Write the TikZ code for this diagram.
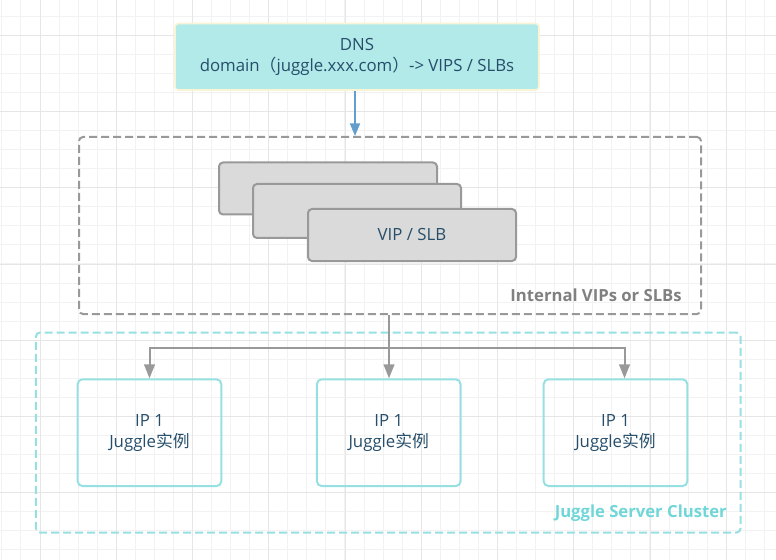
\documentclass[tikz,border=0pt]{standalone}
\usepackage{fontspec}
\setmainfont{Open Sans}
\newfontfamily\cjk{Noto Sans CJK SC}
\usetikzlibrary{arrows.meta,calc}
\definecolor{gridminor}{RGB}{242,242,242}
\definecolor{gridmajor}{RGB}{230,230,230}
\definecolor{dnsfill}{RGB}{178,234,234}
\definecolor{dnsline}{RGB}{250,244,215}
\definecolor{txtblue}{RGB}{38,78,106}
\definecolor{vipfill}{RGB}{218,218,218}
\definecolor{grayline}{RGB}{153,153,153}
\definecolor{graytext}{RGB}{128,128,128}
\definecolor{cyanline}{RGB}{150,224,226}
\definecolor{cyantext}{RGB}{112,214,216}
\definecolor{bluearrow}{RGB}{100,158,204}
\begin{document}
\begin{tikzpicture}[x=0.75pt,y=-0.75pt,
  every node/.style={font=\fontsize{12.6pt}{15.75pt}\selectfont, text=txtblue},
  dnsbox/.style={draw=dnsline, fill=dnsfill, line width=1.2pt, rounded corners=2.5pt, align=center, inner sep=0pt},
  vipbox/.style={draw=grayline, fill=vipfill, line width=1.5pt, rounded corners=3pt, inner sep=0pt, minimum width=156pt},
  grpbox/.style={draw=grayline, line width=1.5pt, dash pattern=on 6pt off 3pt, rounded corners=3pt, inner sep=0pt},
  clbox/.style={draw=cyanline, line width=1.5pt, dash pattern=on 6pt off 3pt, rounded corners=3pt, inner sep=0pt},
  ipbox/.style={draw=cyanline, line width=1.5pt, rounded corners=3.5pt, align=center, inner sep=0pt, minimum width=107.7pt, minimum height=80pt},
  grplabel/.style={font=\bfseries\fontsize{12.5pt}{14pt}\selectfont, inner sep=0pt, anchor=east},
  conn/.style={draw=grayline, line width=1.5pt},
  connarrow/.style={conn, -{Triangle[length=10.5pt,width=8pt]}},
  dnsarrow/.style={draw=bluearrow, line width=1.5pt, -{Triangle[length=9.5pt,width=7.5pt]}}
]
\useasboundingbox (0,0) rectangle (776,560);
% grid
\foreach \i in {0,...,40} {
  \draw[gridminor, line width=0.75pt] (1.9+19.06*\i,0) -- (1.9+19.06*\i,560);
}
\foreach \i in {0,...,29} {
  \draw[gridminor, line width=0.75pt] (0,16.2+19.06*\i) -- (776,16.2+19.06*\i);
}
\foreach \i in {0,...,9} {
  \draw[gridmajor, line width=0.75pt] (40+76.25*\i,0) -- (40+76.25*\i,560);
}
\foreach \i in {0,...,7} {
  \draw[gridmajor, line width=0.75pt] (0,35.3+76.25*\i) -- (776,35.3+76.25*\i);
}

% DNS
\node[dnsbox, minimum width=273pt, minimum height=49.9pt] (dns) at (357,56.75)
  {DNS\\domain{\cjk （}juggle.xxx.com{\cjk ）}-> VIPS / SLBs};

% internal group
\node[grpbox, minimum width=466.5pt, minimum height=132.75pt] (grp) at (390,225.5) {};
\node[vipbox, minimum width=163.5pt, minimum height=39pt] (vipa) at (328,188.5) {};
\node[vipbox, minimum height=40.5pt] (vipb) at (357,211) {};
\node[vipbox, minimum height=39pt] (vipc) at (412,235) {VIP / SLB};
\node[grplabel, text=graytext] (grplab) at (682,295.5) {Internal VIPs or SLBs};

% cluster
\node[clbox, minimum width=528.4pt, minimum height=150pt] (cl) at (388.25,432.5) {};
\node[ipbox] (ipa) at (149.5,432.7) {IP 1\\Juggle{\cjk 实例}};
\node[ipbox] (ipb) at (388.75,432.7) {IP 1\\Juggle{\cjk 实例}};
\node[ipbox] (ipc) at (615.5,432.7) {IP 1\\Juggle{\cjk 实例}};
\node[grplabel, text=cyantext] (cllab) at (727,513.5) {Juggle Server Cluster};

% connectors
\draw[dnsarrow] ($(dns.south)+(-2,0)$) -- ($(dns.south |- grp.north)+(-2,0)$);
\coordinate (split) at ($(grp.south)+(-1,33)$);
\draw[conn, line width=2.2pt] (grp.south -| split) -- (split);
\draw[connarrow] (split) -| (ipa.north);
\draw[connarrow] (split) -- (split |- ipb.north);
\draw[connarrow] (split) -| ($(ipc.north)+(9,0)$);
\end{tikzpicture}
\end{document}
